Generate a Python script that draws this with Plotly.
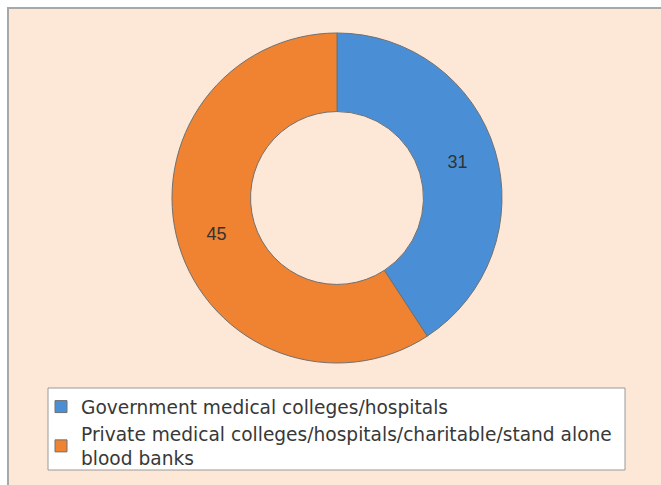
import plotly.graph_objects as go

# Blood bank ownership counts
categories = [
    "Government medical colleges/hospitals",
    "Private medical colleges/hospitals/charitable/stand alone<br>blood banks",
]
counts = [31, 45]
slice_colors = ["#4a8fd5", "#f08331"]

W, H = 661, 485
FONT = "Liberation Sans, Arial, sans-serif"
LEGEND_FONT = "DejaVu Sans, Liberation Sans, sans-serif"

fig = go.Figure(
    go.Pie(
        labels=categories,
        values=counts,
        hole=0.524,
        sort=False,
        direction="clockwise",
        rotation=0,
        marker=dict(colors=slice_colors, line=dict(color="#707070", width=1)),
        textinfo="value",
        textposition="inside",
        insidetextorientation="horizontal",
        textfont=dict(family=FONT, size=18, color="#333333"),
        domain=dict(x=[172 / W, 502 / W], y=[1 - 363 / H, 1 - 33 / H]),
        hoverinfo="label+value",
    )
)

fig.update_layout(
    width=W,
    height=H,
    margin=dict(l=0, r=0, t=0, b=0),
    paper_bgcolor="#ffffff",
    showlegend=True,
    legend=dict(
        x=41 / W,
        y=1 - 388 / H,
        xanchor="left",
        yanchor="top",
        bgcolor="rgba(0,0,0,0)",
        borderwidth=0,
        font=dict(family=LEGEND_FONT, size=18.6, color="#383838"),
        tracegroupgap=0,
    ),
    shapes=[
        # framed panel behind the chart
        dict(
            type="rect",
            xref="paper",
            yref="paper",
            x0=8 / W,
            x1=1.01,
            y0=-0.01,
            y1=1 - 8 / H,
            fillcolor="#fde7d7",
            line=dict(color="#a8a8a8", width=2),
            layer="below",
        ),
        # legend box
        dict(
            type="rect",
            xref="paper",
            yref="paper",
            x0=48 / W,
            x1=625 / W,
            y0=1 - 470 / H,
            y1=1 - 388 / H,
            fillcolor="#ffffff",
            line=dict(color="#9a9a9a", width=1),
            layer="below",
        ),
    ],
)

fig.write_html("out.html")
